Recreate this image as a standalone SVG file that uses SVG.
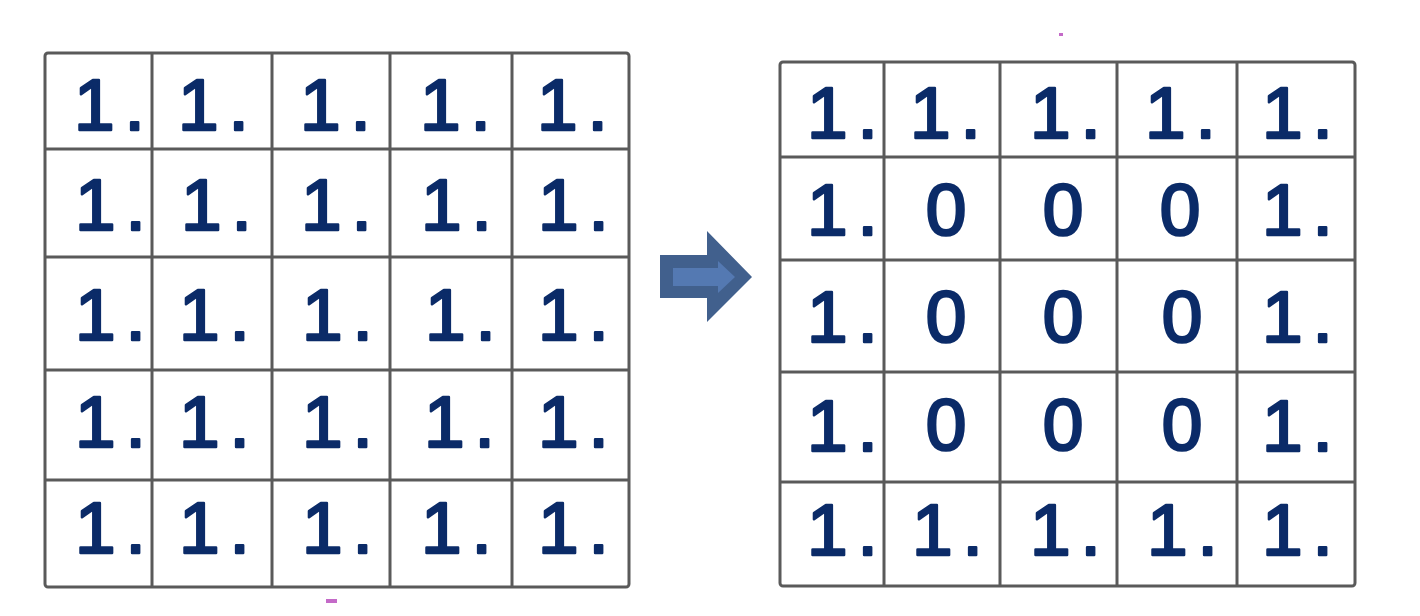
<svg xmlns="http://www.w3.org/2000/svg" width="1420" height="616" viewBox="0 0 1420 616">
<style>
.grid{fill:none;stroke:#5a5a5a;stroke-width:3;stroke-linejoin:round}
.num{font-family:"Liberation Sans",Arial,sans-serif;font-size:73px;fill:#0b2b68;stroke:#0b2b68;stroke-width:2.6;stroke-linejoin:round}
.one{letter-spacing:10px}
.zero{text-anchor:middle}
</style>
<rect width="1420" height="616" fill="#ffffff"/>
<g id="matrix-left">
<rect class="grid" x="45" y="53" width="584" height="534" rx="3"/>
<path class="grid" d="M152 53V587M272 53V587M390 53V587M512 53V587M45 149H629M45 257H629M45 370H629M45 480H629"/>
<g class="num one">
<text x="74" y="130">1.</text><text x="178" y="130">1.</text><text x="300" y="130">1.</text><text x="420" y="130">1.</text><text x="537" y="130">1.</text>
<text x="75" y="230">1.</text><text x="181" y="230">1.</text><text x="301" y="230">1.</text><text x="421" y="230">1.</text><text x="538" y="230">1.</text>
<text x="75" y="340">1.</text><text x="179" y="340">1.</text><text x="302" y="340">1.</text><text x="425" y="340">1.</text><text x="538" y="340">1.</text>
<text x="75" y="447">1.</text><text x="179" y="447">1.</text><text x="302" y="447">1.</text><text x="424" y="447">1.</text><text x="538" y="447">1.</text>
<text x="75" y="553">1.</text><text x="179" y="553">1.</text><text x="302" y="553">1.</text><text x="421" y="553">1.</text><text x="538" y="553">1.</text>
</g>
</g>
<g id="matrix-right">
<rect class="grid" x="780" y="62" width="575" height="524" rx="3"/>
<path class="grid" d="M884 62V586M1000 62V586M1117 62V586M1237 62V586M780 157H1355M780 260H1355M780 372H1355M780 482H1355"/>
<g class="num one">
<text x="807" y="138">1.</text><text x="910" y="138">1.</text><text x="1030" y="138">1.</text><text x="1145" y="138">1.</text><text x="1262" y="138">1.</text>
<text x="807" y="235">1.</text><text x="1262" y="235">1.</text>
<text x="807" y="342">1.</text><text x="1262" y="342">1.</text>
<text x="807" y="451">1.</text><text x="1262" y="451">1.</text>
<text x="807" y="555">1.</text><text x="912" y="555">1.</text><text x="1030" y="555">1.</text><text x="1147" y="555">1.</text><text x="1262" y="555">1.</text>
</g>
<g class="num zero">
<text x="946" y="235">0</text><text x="1063" y="235">0</text><text x="1180" y="235">0</text>
<text x="946" y="342">0</text><text x="1063" y="342">0</text><text x="1182" y="342">0</text>
<text x="946" y="450">0</text><text x="1063" y="450">0</text><text x="1182" y="450">0</text>
</g>
</g>
<g id="connectors">
<polygon points="660,255 707,255 707,231 752,277 707,322 707,298 660,298" fill="#41608d"/>
<polygon points="673,268 718,268 718,261 735,277 718,293 718,286 673,286" fill="#5479b2"/>
</g>
<g id="marks" fill="#c46ac8">
<rect x="1059" y="33" width="4" height="3"/>
<rect x="326" y="599" width="11" height="4"/>
</g>
</svg>
